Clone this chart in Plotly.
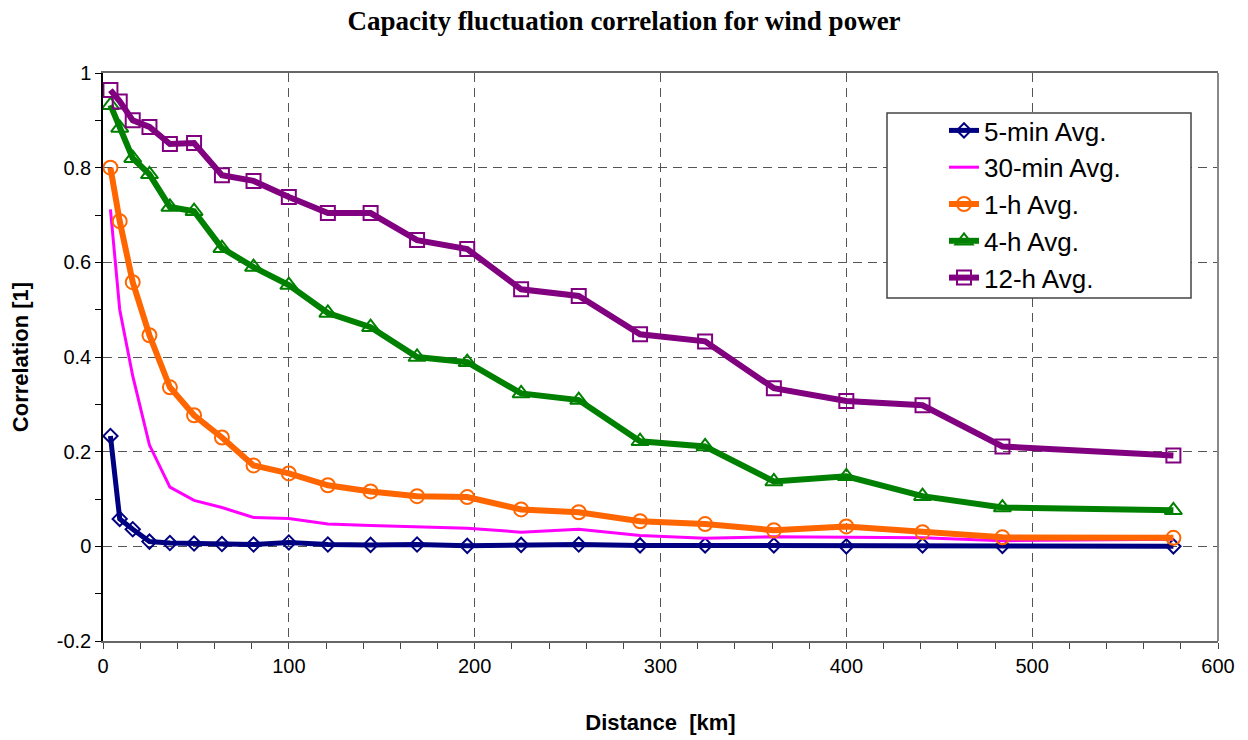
import plotly.graph_objects as go

distance_km = [4, 9, 16, 25, 36, 49, 64, 81, 100, 121, 144, 169, 196, 225, 256, 289, 324, 361, 400, 441, 484, 576]

corr_5min = [0.233, 0.058, 0.036, 0.010, 0.007, 0.006, 0.005, 0.004, 0.008, 0.004, 0.003, 0.004,
             0.001, 0.003, 0.004, 0.002, 0.002, 0.002, 0.000, 0.002, 0.001, 0.000]
corr_30min = [0.712, 0.500, 0.360, 0.214, 0.125, 0.097, 0.082, 0.061, 0.059, 0.047, 0.044, 0.041,
              0.038, 0.030, 0.036, 0.023, 0.017, 0.020, 0.019, 0.018, 0.012, 0.015]
corr_1h = [0.800, 0.687, 0.558, 0.446, 0.336, 0.277, 0.230, 0.171, 0.154, 0.129, 0.116, 0.106,
           0.104, 0.078, 0.072, 0.053, 0.047, 0.034, 0.042, 0.030, 0.019, 0.018]
corr_4h = [0.932, 0.884, 0.820, 0.786, 0.717, 0.708, 0.630, 0.590, 0.552, 0.493, 0.463, 0.400,
           0.389, 0.323, 0.309, 0.222, 0.211, 0.137, 0.148, 0.106, 0.082, 0.076]
corr_12h = [0.964, 0.940, 0.900, 0.886, 0.850, 0.852, 0.784, 0.772, 0.738, 0.704, 0.704, 0.647,
            0.628, 0.543, 0.529, 0.448, 0.433, 0.334, 0.307, 0.298, 0.211, 0.192]

series_names = ["5-min Avg.", "30-min Avg.", "1-h Avg.", "4-h Avg.", "12-h Avg."]

x_tickvals = [0, 100, 200, 300, 400, 500, 600]
x_ticktext = ["0", "100", "200", "300", "400", "500", "600"]
y_tickvals = [-0.2, 0, 0.2, 0.4, 0.6, 0.8, 1.0]
y_ticktext = ["-0.2", "0", "0.2", "0.4", "0.6", "0.8", "1"]

fig = go.Figure()

fig.add_trace(go.Scatter(
    x=distance_km, y=corr_5min, name=series_names[0], mode="lines+markers",
    line=dict(color="#000080", width=5),
    marker=dict(symbol="diamond-open", size=11, color="#000080", line=dict(width=2))))
fig.add_trace(go.Scatter(
    x=distance_km, y=corr_30min, name=series_names[1], mode="lines",
    line=dict(color="#FF00FF", width=3)))
fig.add_trace(go.Scatter(
    x=distance_km, y=corr_1h, name=series_names[2], mode="lines+markers",
    line=dict(color="#FF6600", width=6),
    marker=dict(symbol="circle-open", size=14, color="#FF6600", line=dict(width=2))))
fig.add_trace(go.Scatter(
    x=distance_km, y=corr_4h, name=series_names[3], mode="lines+markers",
    line=dict(color="#008000", width=6),
    marker=dict(symbol="triangle-up-open", size=15, color="#008000", line=dict(width=2))))
fig.add_trace(go.Scatter(
    x=distance_km, y=corr_12h, name=series_names[4], mode="lines+markers",
    line=dict(color="#800080", width=6),
    marker=dict(symbol="square-open", size=14, color="#800080", line=dict(width=2))))

L, R, T, B = 103, 30, 73, 99
W, H = 1248, 740
pw, ph = W - L - R, H - T - B

def px2paper_x(px):
    return (px - L) / pw

def px2paper_y(py):
    return (H - B - py) / ph

fig.update_layout(
    width=W, height=H,
    margin=dict(l=L, r=R, t=T, b=B),
    paper_bgcolor="white", plot_bgcolor="white",
    font=dict(family="Arial, Liberation Sans, sans-serif", color="black"),
    title=dict(text="<b>Capacity fluctuation correlation for wind power</b>",
               x=0.5, xanchor="center", y=1 - 21 / H, yanchor="middle",
               font=dict(family="Liberation Serif, Times New Roman, serif", size=27, color="black")),
    xaxis=dict(range=[0, 600], tickvals=x_tickvals, ticktext=x_ticktext, automargin=False,
               showgrid=True, gridcolor="#555555", griddash="9px,6px", gridwidth=1.3,
               zeroline=False, showline=True, linecolor="#666666", linewidth=2, mirror=True,
               ticks="outside", ticklen=6, tickcolor="#444444",
               minor=dict(dtick=20, tick0=0, ticks="outside", ticklen=6, tickcolor="#444444", showgrid=False),
               tickfont=dict(size=20),
               title=dict(text="<b>Distance  [km]</b>", font=dict(size=22), standoff=39)),
    yaxis=dict(range=[-0.2, 1.0], tickvals=y_tickvals, ticktext=y_ticktext, automargin=False,
               showgrid=True, gridcolor="#555555", griddash="9px,6px", gridwidth=1.3,
               zeroline=False, showline=True, linecolor="black", linewidth=1.5, mirror=False,
               ticks="outside", ticklen=6, tickcolor="black",
               minor=dict(dtick=0.1, tick0=0, ticks="outside", ticklen=6, tickcolor="black", showgrid=False),
               tickfont=dict(size=20),
               title=dict(text="<b>Correlation [1]</b>", font=dict(size=22), standoff=22)),
    legend=dict(x=px2paper_x(944), y=px2paper_y(107), xanchor="left", yanchor="top",
                bgcolor="rgba(0,0,0,0)", borderwidth=0,
                font=dict(size=26, color="black")),
    shapes=[
        dict(type="rect", xref="paper", yref="paper",
             x0=px2paper_x(887), x1=px2paper_x(1191), y0=px2paper_y(298), y1=px2paper_y(113),
             line=dict(color="#444444", width=1.5), fillcolor="white", layer="above"),
        dict(type="line", xref="paper", yref="paper", x0=1, x1=1, y0=0, y1=1,
             line=dict(color="#888888", width=2), layer="above"),
    ],
)

fig.write_html("out.html", config={"displayModeBar": False},
               post_script="document.body.style.margin='0';document.body.style.overflow='hidden';")
